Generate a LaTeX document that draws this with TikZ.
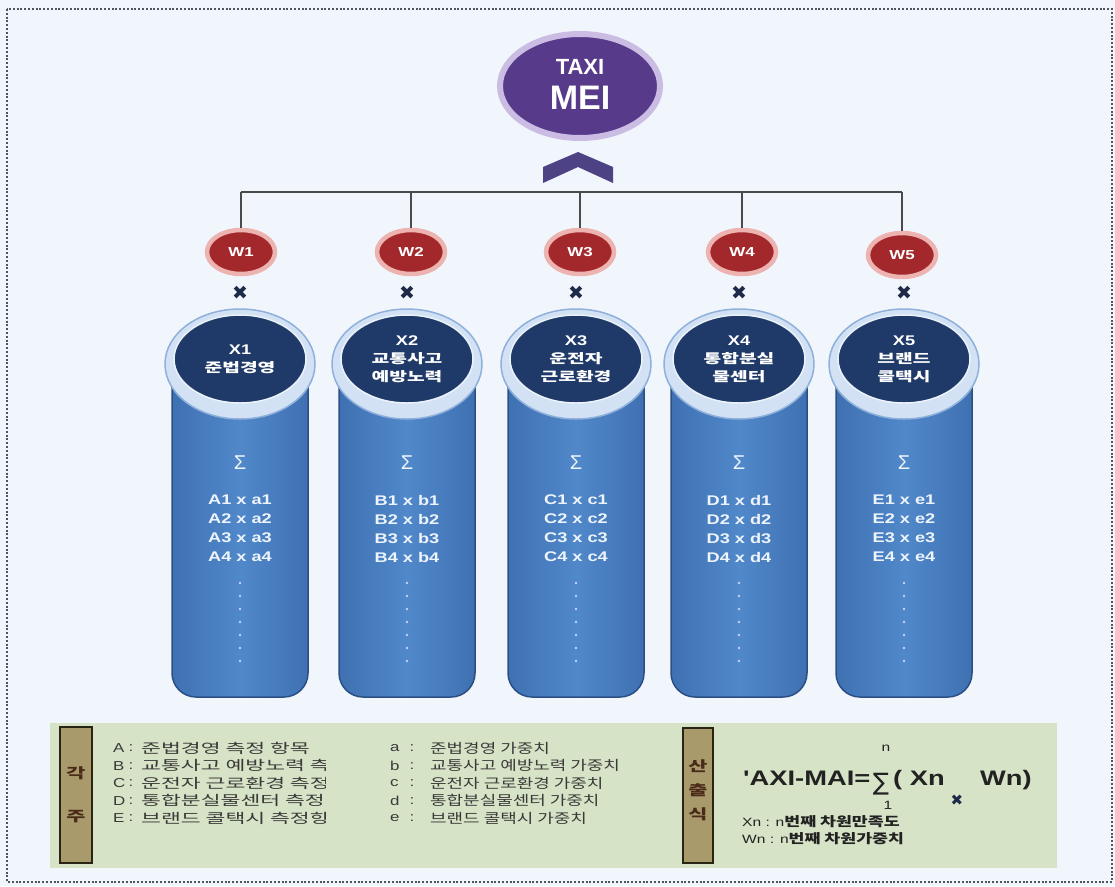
\documentclass[tikz,border=0pt]{standalone}
\usepackage{fontspec}
\setmainfont{Liberation Sans}
\newfontfamily\wide[FakeStretch=1.3]{Liberation Sans}
\newfontfamily\kr[FakeStretch=1.48]{Noto Sans CJK KR}
\newfontfamily\krl[FakeStretch=1.33]{Noto Sans CJK KR}
\newfontfamily\krw[FakeStretch=1.6]{Noto Sans CJK KR}
\newfontfamily\dv{DejaVu Sans}
\usetikzlibrary{shapes.geometric}
\newcommand\myfs[2]{\fontsize{#1}{#2}\selectfont}
\newcommand\krx[1]{{\kr\myfs{13}{18}#1}}
\definecolor{bgc}{HTML}{F1F6FD}
\definecolor{borderc}{HTML}{50555C}
\definecolor{meipurple}{HTML}{573A8A}
\definecolor{meiglow}{HTML}{CBBCE4}
\definecolor{chevc}{HTML}{4C4284}
\definecolor{barc}{HTML}{4A4A4A}
\definecolor{wred}{HTML}{A3282B}
\definecolor{wglow}{HTML}{ECB3B0}
\definecolor{multc}{HTML}{1E2A48}
\definecolor{coledge}{HTML}{3F71B2}
\definecolor{colmid}{HTML}{5088CA}
\definecolor{colborder}{HTML}{2B4F84}
\definecolor{ringc}{HTML}{D2E2F4}
\definecolor{ringborder}{HTML}{8FB0DB}
\definecolor{xnavy}{HTML}{1F3A68}
\definecolor{xedge}{HTML}{EAF2FB}
\definecolor{coltext}{HTML}{EEF4FC}
\definecolor{legc}{HTML}{D7E3C6}
\definecolor{tagc}{HTML}{A99A6C}
\definecolor{tagborder}{HTML}{2A2414}
\definecolor{tagtextc}{HTML}{4A2A18}
\definecolor{legtext}{HTML}{3A3A3A}
\definecolor{formc}{HTML}{222222}
\begin{document}
\begin{tikzpicture}[x=1pt,y=-1pt,
  topnode/.style={ellipse, fill=meipurple, draw=meiglow, line width=6pt, minimum width=160pt, minimum height=104pt, inner sep=0pt},
  toptext/.style={text=white, inner sep=0pt},
  conn/.style={draw=barc, line width=1.6pt},
  wnode/.style={ellipse, fill=wred, draw=wglow, line width=4.5pt, minimum width=68pt, minimum height=44pt, inner sep=0pt, text=white, font=\wide\bfseries\myfs{13}{13}},
  mult/.style={text=multc, font=\dv\myfs{19}{19}, inner sep=0pt},
  colbody/.style={rectangle, rounded corners=24pt, minimum width=136pt, minimum height=352pt, draw=colborder, line width=1.5pt, left color=coledge, right color=coledge, middle color=colmid},
  ringnode/.style={ellipse, fill=ringc, draw=ringborder, line width=1.5pt, minimum width=150pt, minimum height=110pt},
  xnode/.style={ellipse, fill=xnavy, draw=xedge, line width=1.5pt, minimum width=132pt, minimum height=88pt, inner sep=0pt, text=white, align=center, font=\wide\bfseries\myfs{14}{18}},
  sig/.style={text=coltext, font=\myfs{20}{20}, inner sep=0pt},
  rowtext/.style={text=coltext, font=\wide\bfseries\myfs{14}{14}, inner sep=0pt},
  legbox/.style={rectangle, fill=legc, minimum width=1007pt, minimum height=145pt, inner sep=0pt},
  tag/.style={rectangle, fill=tagc, draw=tagborder, line width=2.5pt, inner sep=0pt},
  tagtext/.style={text=tagtextc, font=\kr\bfseries\myfs{14}{14}, inner sep=0pt},
  legletter/.style={text=legtext, font=\wide\myfs{13}{13}, inner sep=0pt},
  legkr/.style={text=legtext, font=\krl\myfs{13.5}{13.5}, inner sep=0pt, anchor=west},
  legkrw/.style={text=legtext, font=\krw\myfs{13.5}{13.5}, inner sep=0pt, anchor=west},
  formula/.style={text=formc, font=\wide\bfseries\myfs{21}{21}, inner sep=0pt},
  formsmall/.style={text=formc, font=\wide\myfs{12}{12}, inner sep=0pt},
  formnote/.style={text=formc, font=\wide\myfs{12}{12}, inner sep=0pt, anchor=west}
]
\useasboundingbox (0,0) rectangle (1115,886);
\fill[bgc] (0,0) rectangle (1115,886);
\draw[borderc, line width=2.4pt, dash pattern=on 2pt off 1.8pt] (7,9) rectangle (1112,882);

% top node
\node[topnode] (mei) at (580,86) {};
\node[toptext, font=\bfseries\myfs{22}{22}] (meiT) at (580,67) {TAXI};
\node[toptext, font=\bfseries\myfs{34}{34}] (meiM) at (580,98) {MEI};

% chevron
\fill[chevc] (543,167) -- (578,152) -- (613,167) -- (613,183) -- (578,167) -- (543,183) -- cycle;

% columns
\foreach \i/\wx/\wy/\cx/\L/\l/\txt in {
  1/241/252/240/A/a/{X1\\\krx{준법경영}},
  2/411/252/407/B/b/{X2\\\krx{교통사고}\\\krx{예방노력}},
  3/580/252/576/C/c/{X3\\\krx{운전자}\\\krx{근로환경}},
  4/742/252/739/D/d/{X4\\\krx{통합분실}\\\krx{물센터}},
  5/902/255/904/E/e/{X5\\\krx{브랜드}\\\krx{콜택시}}} {
  \coordinate (b\i) at (\wx,192);
  \node[wnode] (w\i) at (\wx,\wy) {W\i};
  \node[mult] (m\i) at (\cx,293) {✖};
  \node[colbody] (c\i) at (\cx,521) {};
  \node[ringnode] (r\i) at (\cx,364) {};
  \node[xnode] (x\i) at (\cx,359) {\txt};
  \node[sig] (s\i) at (\cx,463) {Σ};
  \node[rowtext] (row\i-1) at (\cx,500) {\L1 x \l1};
  \node[rowtext] (row\i-2) at (\cx,519) {\L2 x \l2};
  \node[rowtext] (row\i-3) at (\cx,538) {\L3 x \l3};
  \node[rowtext] (row\i-4) at (\cx,557) {\L4 x \l4};
  \foreach \k in {0,...,6} {
    \fill[coltext!85!blue] (\cx,{583+13*\k}) circle (1.3pt);
  }
  \draw[conn] (b\i) -- (w\i.north);
}
\draw[conn] (b1) -- (b5);

% legend
\node[legbox] (leg) at (553.5,795.5) {};
\node[tag, minimum width=32pt, minimum height=136pt] (tag1) at (76,795) {};
\node[tagtext] (tag1a) at (76,773) {각};
\node[tagtext] (tag1b) at (76,817) {주};

\begin{scope}
\clip (100,735) rectangle (325,830);
\foreach \L/\T [count=\n] in {A/준법경영 측정 항목, B/교통사고 예방노력 측정, C/운전자 근로환경 측정, D/통합분실물센터 측정, E/브랜드 콜택시 측정항목} {
  \node[legletter, anchor=west] (lk\n) at (113,{748+17.6*(\n-1)}) {\L};
  \node[legletter] (lc\n) at (131,{748+17.6*(\n-1)}) {:};
  \node[legkrw] (lt\n) at (141,{748+17.6*(\n-1)}) {\T};
}
\end{scope}
\foreach \L/\T [count=\n] in {a/준법경영 가중치, b/교통사고 예방노력 가중치, c/운전자 근로환경 가중치, d/통합분실물센터 가중치, e/브랜드 콜택시 가중치} {
  \node[legletter, anchor=west] (rk\n) at (390,{748+17.6*(\n-1)}) {\L};
  \node[legletter] (rc\n) at (412,{748+17.6*(\n-1)}) {:};
  \node[legkr] (rt\n) at (430,{748+17.6*(\n-1)}) {\T};
}

\node[tag, minimum width=30pt, minimum height=135pt] (tag2) at (698,795.5) {};
\node[tagtext] (tag2a) at (698,766) {산};
\node[tagtext] (tag2b) at (698,790) {출};
\node[tagtext] (tag2c) at (698,814) {식};

% formula
\node[formula, anchor=base west] (f1) at (743,785) {'AXI-MAI=};
\node[text=formc, font=\dv\myfs{24}{24}, inner sep=0pt] (fsum) at (881,784) {∑};
\node[formsmall] (fn) at (886,748) {n};
\node[formsmall] (f1b) at (888,805) {1};
\node[formula, anchor=base west] (fx) at (893,785) {( Xn};
\node[mult, font=\dv\myfs{15}{15}] (fm) at (957,800) {✖};
\node[formula, anchor=base west] (fw) at (980,785) {Wn)};
\node[formnote] (fxn) at (742,822) {Xn : n{\krl\bfseries\myfs{13}{13}번째 차원만족도}};
\node[formnote] (fwn) at (742,839) {Wn : n{\krl\bfseries\myfs{13}{13}번째 차원가중치}};
\end{tikzpicture}
\end{document}
